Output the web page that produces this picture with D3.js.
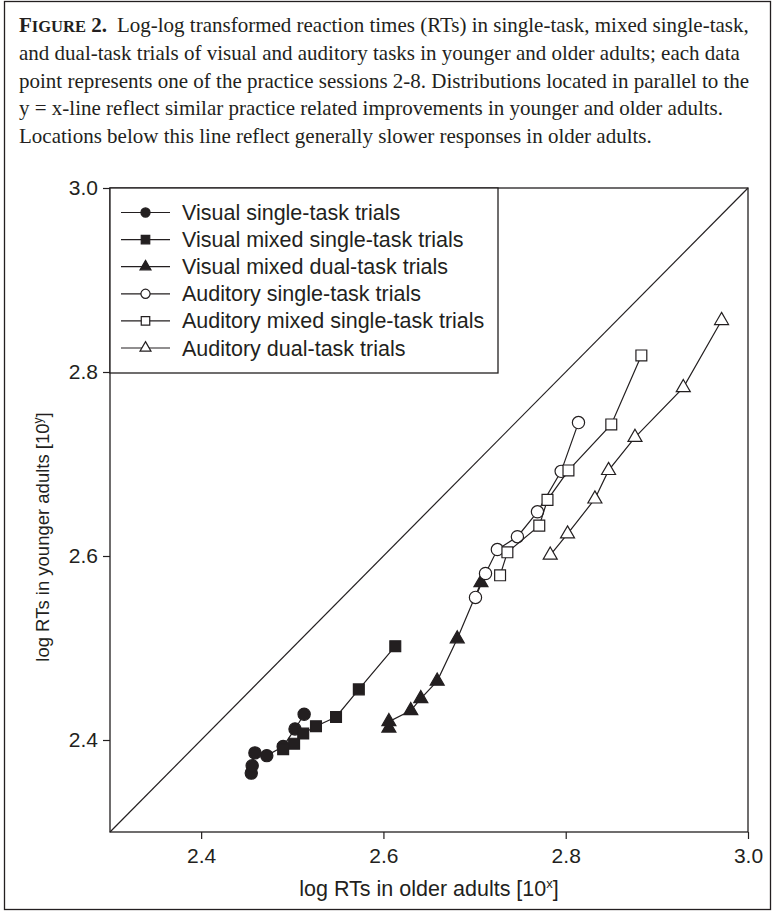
<!DOCTYPE html>
<html>
<head>
<meta charset="utf-8">
<script src="https://cdn.jsdelivr.net/npm/d3@7"></script>
<style>
  body { margin: 0; background: #fff; }
  svg { display: block; }
  .sans { font-family: "Liberation Sans", Arial, sans-serif; }
  .serif { font-family: "Liberation Serif", "Times New Roman", serif; }
</style>
</head>
<body>
<svg id="fig" width="773" height="911"></svg>
<script>
// Caption text
const captionLines = [
  "Log-log transformed reaction times (RTs) in single-task, mixed single-task,",
  "and dual-task trials of visual and auditory tasks in younger and older adults; each data",
  "point represents one of the practice sessions 2-8. Distributions located in parallel to the",
  "y = x-line reflect similar practice related improvements in younger and older adults.",
  "Locations below this line reflect generally slower responses in older adults."
];

// Ticks
const xTicks = [2.4, 2.6, 2.8, 3.0];
const yTicks = [2.4, 2.6, 2.8, 3.0];

// Series names (legend order)
const seriesNames = [
  "Visual single-task trials",
  "Visual mixed single-task trials",
  "Visual mixed dual-task trials",
  "Auditory single-task trials",
  "Auditory mixed single-task trials",
  "Auditory dual-task trials"
];

// Data: x = older adults, y = younger adults (sessions 8 -> 2)
const visualSingleX = [2.455, 2.456, 2.459, 2.472, 2.490, 2.503, 2.513];
const visualSingleY = [2.364, 2.372, 2.386, 2.383, 2.393, 2.412, 2.428];

const visualMixedX = [2.490, 2.502, 2.512, 2.526, 2.548, 2.573, 2.613];
const visualMixedY = [2.390, 2.396, 2.407, 2.415, 2.425, 2.455, 2.502];

const visualDualX = [2.606, 2.606, 2.630, 2.641, 2.659, 2.681, 2.707];
const visualDualY = [2.413, 2.420, 2.432, 2.445, 2.464, 2.510, 2.571];

const auditorySingleX = [2.701, 2.712, 2.725, 2.747, 2.769, 2.795, 2.814];
const auditorySingleY = [2.555, 2.581, 2.607, 2.621, 2.648, 2.692, 2.745];

const auditoryMixedX = [2.728, 2.736, 2.771, 2.780, 2.803, 2.850, 2.883];
const auditoryMixedY = [2.579, 2.604, 2.633, 2.661, 2.693, 2.743, 2.818];

const auditoryDualX = [2.783, 2.802, 2.832, 2.847, 2.876, 2.929, 2.971];
const auditoryDualY = [2.601, 2.624, 2.662, 2.693, 2.729, 2.783, 2.856];

const series = [
  { name: seriesNames[0], xs: visualSingleX, ys: visualSingleY, shape: "circle", filled: true },
  { name: seriesNames[1], xs: visualMixedX, ys: visualMixedY, shape: "square", filled: true },
  { name: seriesNames[2], xs: visualDualX, ys: visualDualY, shape: "triangle", filled: true },
  { name: seriesNames[3], xs: auditorySingleX, ys: auditorySingleY, shape: "circle", filled: false },
  { name: seriesNames[4], xs: auditoryMixedX, ys: auditoryMixedY, shape: "square", filled: false },
  { name: seriesNames[5], xs: auditoryDualX, ys: auditoryDualY, shape: "triangle", filled: false }
];

const ink = "#231f20";
const svg = d3.select("#fig");

// Outer frame
svg.append("rect")
  .attr("x", 4.5).attr("y", 1.5)
  .attr("width", 766).attr("height", 908)
  .attr("fill", "none").attr("stroke", ink).attr("stroke-width", 1.3);

// Caption
const cap = svg.append("g").attr("class", "serif").style("font-size", "21px").attr("fill", ink);
captionLines.forEach((line, i) => {
  const t = cap.append("text").attr("x", 19).attr("y", 32 + i * 27.75);
  if (i === 0) {
    t.append("tspan").style("font-weight", "bold").text("F");
    t.append("tspan").style("font-weight", "bold").style("font-size", "16.5px").text("IGURE");
    t.append("tspan").style("font-weight", "bold").text(" 2.");
    t.append("tspan").attr("dx", 10).text(line);
  } else {
    t.text(line);
  }
});

// Chart
const x = d3.scaleLinear().domain([2.3, 3.0]).range([110, 748]);
const y = d3.scaleLinear().domain([2.3, 3.0]).range([832, 188]);

const plot = svg.append("g").attr("class", "sans");

// Axes
const xAxis = plot.append("g")
  .attr("transform", `translate(0,${y(2.3)})`)
  .call(d3.axisBottom(x).tickValues(xTicks).tickSize(7).tickPadding(9).tickFormat(d3.format(".1f")));
const yAxis = plot.append("g")
  .attr("transform", `translate(${x(2.3)},0)`)
  .call(d3.axisLeft(y).tickValues(yTicks).tickSize(7).tickPadding(5).tickFormat(d3.format(".1f")));

[xAxis, yAxis].forEach(a => {
  a.select(".domain").remove();
  a.selectAll("line").attr("stroke", ink).attr("stroke-width", 1.2);
  a.selectAll("text").attr("fill", ink).style("font-size", "21px").style("font-family", "Liberation Sans, Arial, sans-serif");
});

// Plot box
plot.append("rect")
  .attr("x", x(2.3)).attr("y", y(3.0))
  .attr("width", x(3.0) - x(2.3)).attr("height", y(2.3) - y(3.0))
  .attr("fill", "none").attr("stroke", ink).attr("stroke-width", 1.3);

// y = x line
plot.append("line")
  .attr("x1", x(2.3)).attr("y1", y(2.3))
  .attr("x2", x(3.0)).attr("y2", y(3.0))
  .attr("stroke", ink).attr("stroke-width", 1.2);

// Axis titles
const xt = plot.append("text")
  .attr("x", (x(2.3) + x(3.0)) / 2).attr("y", 896)
  .attr("text-anchor", "middle").attr("fill", ink).style("font-size", "21.5px");
xt.append("tspan").text("log RTs in older adults [10");
xt.append("tspan").attr("dy", -8).style("font-size", "13px").text("x");
xt.append("tspan").attr("dy", 8).text("]");

const yt = plot.append("text")
  .attr("transform", "translate(49,537) rotate(-90)")
  .attr("text-anchor", "middle").attr("fill", ink).style("font-size", "18.5px");
yt.append("tspan").text("log RTs in younger adults [10");
yt.append("tspan").attr("dy", -7).style("font-size", "12px").text("y");
yt.append("tspan").attr("dy", 7).text("]");

// Symbols
const symType = { circle: d3.symbolCircle, square: d3.symbolSquare, triangle: d3.symbolTriangle };
const symSize = { circle: 118, square: 118, triangle: 85 };
const legSize = { circle: 66, square: 72, triangle: 52 };

const line = d3.line().x(d => x(d[0])).y(d => y(d[1]));

series.forEach(s => {
  const pts = s.xs.map((v, i) => [v, s.ys[i]]);
  const g = plot.append("g");
  g.append("path").datum(pts)
    .attr("d", line).attr("fill", "none")
    .attr("stroke", ink).attr("stroke-width", 1.2);
  g.selectAll("path.pt").data(pts).join("path")
    .attr("class", "pt")
    .attr("transform", d => `translate(${x(d[0])},${y(d[1])})`)
    .attr("d", d3.symbol(symType[s.shape], symSize[s.shape]))
    .attr("fill", s.filled ? ink : "#fff")
    .attr("stroke", ink).attr("stroke-width", 1.2);
});

// Legend
const legend = plot.append("g");
legend.append("rect")
  .attr("x", x(2.3)).attr("y", y(3.0))
  .attr("width", 498 - x(2.3)).attr("height", 373 - y(3.0))
  .attr("fill", "#fff").attr("stroke", ink).attr("stroke-width", 1.3);

series.forEach((s, i) => {
  const row = legend.append("g").attr("transform", `translate(0,${212.5 + i * 27.1})`);
  row.append("line").attr("x1", 121).attr("x2", 170)
    .attr("stroke", ink).attr("stroke-width", 1.2);
  row.append("path")
    .attr("transform", "translate(145.5,0)")
    .attr("d", d3.symbol(symType[s.shape], legSize[s.shape]))
    .attr("fill", s.filled ? ink : "#fff")
    .attr("stroke", ink).attr("stroke-width", 1.2);
  row.append("text")
    .attr("x", 182).attr("y", 7.5)
    .attr("fill", ink).style("font-size", "21.5px")
    .text(s.name);
});
</script>
</body>
</html>
